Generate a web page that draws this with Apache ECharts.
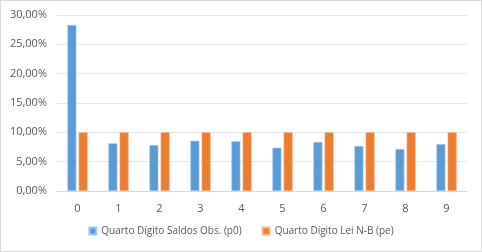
<!DOCTYPE html>
<html>
<head>
<meta charset="utf-8">
<script src="https://cdn.jsdelivr.net/npm/echarts@6/dist/echarts.min.js"></script>
<style>
  html, body { margin: 0; padding: 0; background: #fff; }
  #chart { width: 482px; height: 252px; box-sizing: border-box; border: 1px solid #d9d9d9; }
</style>
</head>
<body>
<div id="chart"></div>
<script>
const digits = ["0", "1", "2", "3", "4", "5", "6", "7", "8", "9"];
const observed = [28.3, 8.13, 7.84, 8.57, 8.47, 7.38, 8.35, 7.67, 7.16, 8.01];
const expected = [10, 10, 10, 10, 10, 10, 10, 10, 10, 10];
const seriesNames = ["Quarto Dígito Saldos Obs. (p0)", "Quarto Dígito Lei N-B (pe)"];

const chart = echarts.init(document.getElementById("chart"));

const fmt = (v) => v.toFixed(2).replace(".", ",") + "%";

chart.setOption({
  animation: false,
  textStyle: { fontFamily: "Open Sans, Liberation Sans, sans-serif" },
  grid: { left: 56, right: 14, top: 14, bottom: 60 },
  legend: {
    bottom: 10,
    itemWidth: 7,
    itemHeight: 7,
    itemGap: 20,
    icon: "rect",
    textStyle: { fontSize: 10, color: "#595959" },
    data: seriesNames,
  },
  xAxis: {
    type: "category",
    data: digits,
    axisLine: { lineStyle: { color: "#d9d9d9" } },
    axisTick: { show: false },
    axisLabel: { fontSize: 11, color: "#595959", margin: 12 },
  },
  yAxis: {
    type: "value",
    min: 0,
    max: 30,
    interval: 5,
    axisLabel: { fontSize: 11, color: "#595959", formatter: fmt, margin: 10 },
    splitLine: { lineStyle: { color: "#e6e6e6" } },
  },
  series: [
    {
      name: seriesNames[0],
      type: "bar",
      data: observed,
      barWidth: 9,
      barGap: "25%",
      itemStyle: { color: "#5B9BD5", borderColor: "#a9c9ea", borderWidth: 0.6 },
    },
    {
      name: seriesNames[1],
      type: "bar",
      data: expected,
      barWidth: 9,
      itemStyle: { color: "#ED7D31", borderColor: "#f5b48a", borderWidth: 0.6 },
    },
  ],
});
</script>
</body>
</html>
